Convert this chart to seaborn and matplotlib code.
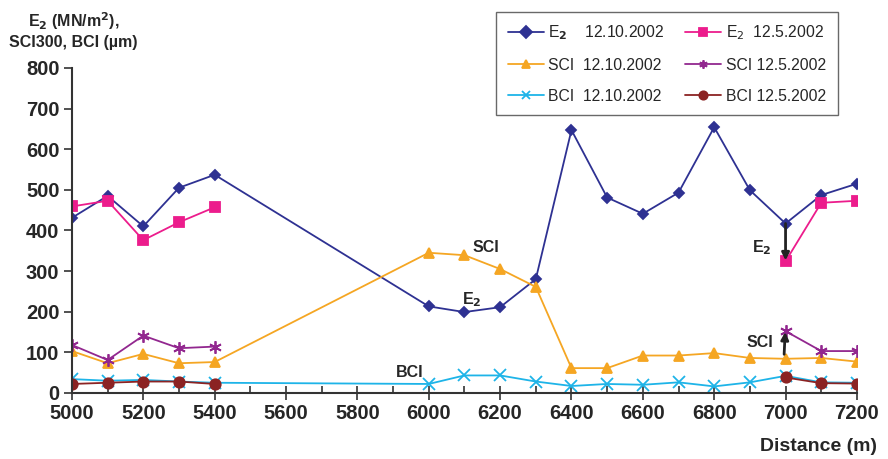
import numpy as np
import pandas as pd
import seaborn as sns
import matplotlib
matplotlib.use("Agg")
import matplotlib.pyplot as plt
from matplotlib.ticker import MultipleLocator

sns.set_style("white")
plt.rcParams['font.family'] = ['Liberation Sans', 'DejaVu Sans']

distance = [5000, 5100, 5200, 5300, 5400, 6000, 6100, 6200, 6300, 6400, 6500,
            6600, 6700, 6800, 6900, 7000, 7100, 7200]
nan = np.nan
e2_oct = [431, 485, 410, 505, 537, 213, 199, 211, 280, 647, 481, 441, 493, 654, 499, 417, 487, 515]
e2_may = [459, 473, 376, 420, 457, nan, nan, nan, nan, nan, nan, nan, nan, nan, nan, 324, 468, 473]
sci_oct = [103, 73, 96, 73, 76, 345, 339, 305, 261, 61, 61, 92, 92, 98, 86, 84, 86, 77]
sci_may = [118, 81, 141, 110, 114, nan, nan, nan, nan, nan, nan, nan, nan, nan, nan, 152, 103, 103]
bci_oct = [34, 30, 32, 28, 25, 22, 43, 43, 28, 17, 22, 20, 26, 16, 26, 42, 26, 25]
bci_may = [22, 25, 28, 28, 22, nan, nan, nan, nan, nan, nan, nan, nan, nan, nan, 38, 24, 23]

series = [
    ("E$_{\\mathbf{2}}$    12.10.2002", e2_oct, "#2E3192", "D", 5.5),
    ("SCI  12.10.2002", sci_oct, "#F5A623", "^", 7),
    ("BCI  12.10.2002", bci_oct, "#1EB4E8", "x", 8),
    ("E$_2$  12.5.2002", e2_may, "#EC1C8C", "s", 7.5),
    ("SCI 12.5.2002", sci_may, "#92278F", (6, 2, 0), 9),
    ("BCI 12.5.2002", bci_may, "#8B2323", "o", 7.5),
]

fig = plt.figure(figsize=(8.88, 4.59), dpi=100)
ax = fig.add_axes([0.081, 0.144, 0.884, 0.708])

for label, vals, color, marker, ms in series:
    df = pd.DataFrame({"x": distance, "y": vals})
    seg = df["y"].isna().cumsum()
    first = True
    for _, part in df[df["y"].notna()].groupby(seg[df["y"].notna()]):
        sns.lineplot(data=part, x="x", y="y", ax=ax, color=color, marker=marker,
                     markersize=ms, linewidth=1.3, markeredgecolor=color,
                     markeredgewidth=1.3, label=label if first else None,
                     legend=False)
        first = False

ax.set_xlim(5000, 7200)
ax.set_ylim(0, 800)
ax.xaxis.set_major_locator(MultipleLocator(200))
ax.xaxis.set_minor_locator(MultipleLocator(100))
ax.yaxis.set_major_locator(MultipleLocator(100))
ax.tick_params(axis='y', which='major', direction='out', length=6, width=1.2,
               color='#333333', left=True, labelsize=14.5, pad=3)
ax.tick_params(axis='x', which='major', direction='inout', length=10, width=1.2,
               color='#333333', bottom=True, labelsize=14.5, pad=3)
ax.tick_params(axis='x', which='minor', direction='in', length=5, width=1.2,
               color='#333333', bottom=True)
for lab in ax.get_xticklabels() + ax.get_yticklabels():
    lab.set_fontweight('bold')
for s in ['top', 'right']:
    ax.spines[s].set_visible(False)
for s in ['left', 'bottom']:
    ax.spines[s].set_color('#333333')
    ax.spines[s].set_linewidth(1.5)
ax.set_xlabel("")
ax.set_ylabel("")

fig.text(0.988, 0.008, "Distance (m)", ha='right', va='bottom', fontsize=14,
         fontweight='bold')
fig.text(0.083, 0.978, "E$_\\mathbf{2}$ (MN/m$^\\mathbf{2}$),\nSCI300, BCI (µm)",
         ha='center', va='top', fontsize=11.5, fontweight='bold', linespacing=1.3)

leg = ax.legend(ncol=2, loc='upper left', bbox_to_anchor=(0.53, 1.197),
                frameon=True, fontsize=11.3, handlelength=2.3, columnspacing=1.3,
                labelspacing=1.0, borderpad=0.75, handletextpad=0.3,
                fancybox=False)
leg.get_frame().set_edgecolor('#444444')
leg.get_frame().set_linewidth(1.0)
for h in leg.legend_handles:
    h.set_markersize(6)

akw = dict(fontsize=11.5, fontweight='bold', ha='center', va='center')
ax.text(6160, 357, "SCI", **akw)
ax.text(6121, 229, "E$_\\mathbf{2}$", **akw)
ax.text(5947, 49, "BCI", **akw)
ax.text(6934, 357, "E$_\\mathbf{2}$", **akw)
ax.text(6928, 125, "SCI", **akw)
ax.annotate("", xy=(7000, 326), xytext=(7000, 417),
            arrowprops=dict(arrowstyle='-|>', color='#222222', lw=2.0,
                            mutation_scale=11, shrinkA=0, shrinkB=0))
ax.annotate("", xy=(6999, 150), xytext=(6996, 95),
            arrowprops=dict(arrowstyle='-|>', color='#222222', lw=2.0,
                            mutation_scale=11, shrinkA=0, shrinkB=0))

fig.savefig("out.png", dpi=100)
